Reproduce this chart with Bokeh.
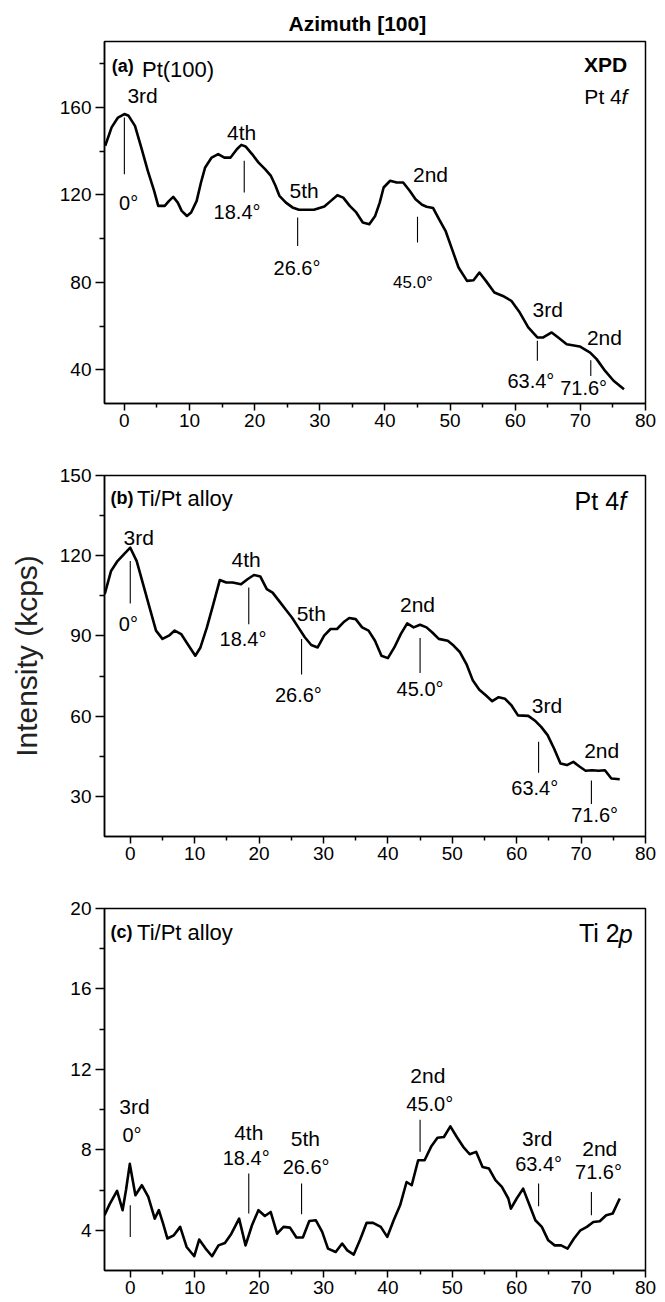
from bokeh.plotting import figure
from bokeh.layouts import column
from bokeh.models import FixedTicker, Range1d
from bokeh.core.properties import value
from bokeh.embed import file_html
from bokeh.resources import INLINE

FONT = "Liberation Sans, Arial, sans-serif"

# ---------------- data ----------------
a_angle = [-2.94, -1.96, -0.98, 0.0, 0.65, 1.63, 2.6, 3.6, 4.57, 5.2, 6.2, 6.86, 7.5, 8.2, 8.8, 9.6,
           10.25, 11.1, 11.76, 12.4, 13.4, 14.4, 15.35, 16.3, 17.3, 17.96, 18.6, 19.6, 20.6, 21.6,
           22.5, 23.2, 23.8, 24.8, 25.8, 26.8, 29.1, 30.7, 31.7, 32.7, 33.6, 34.6, 35.6, 36.6, 37.6,
           38.5, 39.2, 39.8, 40.8, 41.8, 42.8, 43.8, 44.7, 45.7, 46.4, 47.4, 48.3, 49.3, 50.3, 51.3,
           52.6, 53.6, 54.5, 55.5, 56.8, 58.1, 59.4, 60.7, 62.0, 63.4, 64.3, 65.6, 66.6, 67.9, 69.9,
           71.5, 72.5, 73.8, 75.1, 76.7]
a_intensity = [142.5, 150.9, 155.4, 157.0, 156.2, 151.6, 141.7, 131.0, 121.9, 115.0, 115.0, 117.3,
               119.1, 116.5, 112.7, 110.4, 112.0, 117.3, 125.7, 132.6, 137.1, 138.7, 137.1, 137.1,
               141.0, 142.9, 142.2, 138.7, 134.8, 131.8, 128.7, 124.2, 119.6, 116.5, 114.3, 113.2,
               113.2, 114.7, 117.3, 119.9, 118.8, 115.0, 112.0, 107.4, 106.6, 110.4, 116.5, 123.4,
               126.5, 125.7, 125.7, 121.9, 118.0, 115.5, 114.6, 114.0, 108.9, 103.6, 95.2, 86.8,
               80.7, 81.0, 84.5, 80.7, 75.4, 73.8, 71.6, 66.2, 59.4, 54.8, 54.8, 57.1, 54.8, 51.7,
               50.7, 47.9, 44.9, 39.5, 35.0, 31.1]

b_angle = [-3.97, -2.98, -1.98, -1.0, 0.0, 1.0, 2.0, 3.0, 4.0, 5.0, 6.0, 6.9, 7.9, 8.9, 10.1, 10.9,
           11.9, 12.9, 13.9, 14.9, 15.9, 17.2, 18.2, 19.2, 20.2, 21.2, 22.1, 23.1, 24.1, 25.1, 26.1,
           27.1, 28.1, 29.1, 30.1, 31.1, 32.1, 33.1, 34.0, 35.0, 36.0, 37.0, 38.0, 39.0, 40.0, 41.0,
           42.0, 43.0, 44.0, 45.0, 46.0, 46.9, 47.9, 49.3, 50.2, 51.2, 52.2, 53.2, 54.2, 55.2, 56.2,
           57.2, 58.2, 59.2, 60.2, 61.8, 62.8, 63.8, 64.8, 65.8, 66.8, 67.8, 68.8, 69.8, 70.7, 71.7,
           72.7, 73.7, 74.7, 76.0]
b_intensity = [105.6, 114.3, 118.0, 120.5, 123.0, 118.0, 109.3, 100.6, 92.0, 88.9, 90.1, 92.0, 90.7,
               87.0, 82.6, 85.7, 93.2, 101.9, 110.9, 110.0, 110.0, 109.3, 111.2, 112.8, 112.2, 107.5,
               106.2, 103.1, 100.0, 96.9, 93.2, 89.5, 86.6, 85.7, 90.1, 92.6, 92.6, 95.1, 96.7, 96.3,
               93.2, 92.0, 88.2, 82.6, 81.7, 85.7, 90.7, 94.7, 93.2, 94.2, 93.2, 91.3, 88.9, 88.2,
               86.4, 83.9, 79.5, 73.3, 69.9, 67.8, 65.6, 67.1, 66.5, 64.0, 60.3, 60.1, 58.4, 56.0,
               52.9, 47.9, 42.3, 41.7, 42.9, 41.1, 39.6, 39.8, 39.6, 39.8, 36.7, 36.4]

c_angle = [-4.0, -3.2, -2.05, -1.19, -0.66, -0.07, 0.8, 1.8, 2.8, 3.8, 4.44, 5.1, 5.77, 6.76, 7.75,
           8.75, 9.94, 10.7, 11.7, 12.7, 13.7, 14.7, 15.7, 16.9, 17.9, 18.9, 19.9, 20.9, 21.8, 22.8,
           23.8, 24.8, 25.8, 26.8, 27.8, 28.8, 29.8, 30.7, 31.9, 32.9, 33.7, 34.7, 35.7, 36.7, 37.7,
           38.9, 39.9, 40.9, 41.9, 42.9, 43.7, 44.7, 45.7, 46.7, 47.7, 48.7, 49.7, 50.7, 51.7, 52.7,
           53.7, 54.7, 55.7, 56.7, 57.7, 58.7, 59.1, 60.0, 61.0, 62.0, 62.9, 63.9, 64.9, 65.9, 66.9,
           67.9, 68.9, 69.9, 70.9, 71.9, 72.9, 73.9, 74.9, 76.0]
c_intensity = [4.75, 5.3, 5.96, 5.0, 6.0, 7.3, 5.74, 6.24, 5.66, 4.58, 5.0, 4.33, 3.59, 3.75, 4.17,
               3.17, 2.71, 3.54, 3.09, 2.71, 3.25, 3.37, 3.83, 4.58, 3.25, 4.25, 5.0, 4.71, 4.91, 3.83,
               4.17, 4.13, 3.64, 3.64, 4.46, 4.5, 3.92, 3.09, 2.92, 3.34, 3.0, 2.79, 3.54, 4.37, 4.37,
               4.17, 3.67, 4.5, 5.24, 6.4, 6.24, 7.48, 7.48, 8.15, 8.6, 8.64, 9.17, 8.64, 8.15, 7.78,
               7.9, 7.15, 7.07, 6.49, 6.16, 5.58, 5.08, 5.58, 6.07, 5.24, 4.5, 4.17, 3.5, 3.25, 3.25,
               3.09, 3.59, 4.0, 4.17, 4.41, 4.45, 4.75, 4.83, 5.58]

peak_angles = [0.0, 18.4, 26.6, 45.0, 63.4, 71.6]
peak_orders = ["3rd", "4th", "5th", "2nd", "3rd", "2nd"]
angle_labels = ["0°" if a == 0 else f"{a:.1f}°" for a in peak_angles]

x_ticks = [0, 10, 20, 30, 40, 50, 60, 70, 80]


def make_panel(xs, ys, x_range, y_range, y_ticks, y_minor, height, top, bottom,
               marker_y0, marker_y1, order_xy, label_xy, label_sizes):
    p = figure(width=665, height=height, output_backend="svg", toolbar_location=None,
               x_range=Range1d(*x_range), y_range=Range1d(*y_range),
               min_border_left=104, min_border_right=20, min_border_top=top,
               min_border_bottom=bottom)
    p.background_fill_color = "white"
    p.border_fill_color = "white"
    p.outline_line_color = "black"
    p.outline_line_width = 1.5
    p.xgrid.visible = False
    p.ygrid.visible = False
    for ax in (p.xaxis[0], p.yaxis[0]):
        ax.axis_line_width = 1.5
        ax.major_tick_line_width = 1.5
        ax.minor_tick_line_width = 1.5
        ax.major_tick_in = 0
        ax.minor_tick_in = 0
        ax.major_label_text_font = FONT
        ax.major_label_text_font_size = "19px"
        ax.major_label_text_color = "black"
    p.xaxis.major_tick_out = 7
    p.xaxis.minor_tick_out = 4
    p.xaxis.major_label_standoff = 3
    p.yaxis.major_tick_out = 9
    p.yaxis.minor_tick_out = 5
    p.yaxis.major_label_standoff = 4
    p.xaxis.ticker = FixedTicker(ticks=x_ticks, minor_ticks=[t + 5 for t in x_ticks])
    p.yaxis.ticker = FixedTicker(ticks=y_ticks, minor_ticks=y_minor)

    p.line(xs, ys, line_color="black", line_width=2.6, line_join="round")

    # peak markers
    p.segment(x0=peak_angles, y0=marker_y0, x1=peak_angles, y1=marker_y1,
              line_color="black", line_width=1.1)
    ox, oy = order_xy
    p.text(x=ox, y=oy, text=peak_orders, text_font=value(FONT), text_font_size="21px",
           text_align="center", text_baseline="middle", text_color="black")
    lx, ly = label_xy
    p.text(x=lx, y=ly, text=angle_labels, text_font=value(FONT), text_font_size=label_sizes,
           text_align="center", text_baseline="middle", text_color="black")
    return p


def add_text(p, x, y, s, size, style="normal", align="left"):
    p.text(x=[x], y=[y], text=[s], text_font=value(FONT), text_font_size=size,
           text_font_style=style, text_baseline="middle", text_align=align, text_color="black")


# ---- panel (a)
pa = make_panel(a_angle, a_intensity, (-3.05, 80), (24.6, 190.2), [40, 80, 120, 160],
                [60, 100, 140, 180], 445, 41, 42,
                [155.4, 135.6, 109.7, 110.0, 53.3, 44.4],
                [129.5, 121.1, 96.7, 98.2, 44.1, 37.2],
                ([2.8, 18.0, 27.6, 47.0, 65.0, 73.7], [165.3, 148.4, 121.9, 129.5, 67.7, 54.8]),
                ([0.65, 17.3, 26.5, 44.3, 62.4, 70.5], [116.5, 112.4, 86.8, 80.0, 35.0, 31.9]),
                ["20px", "20px", "20px", "17px", "20px", "20px"])
pa.title.text = "Azimuth [100]"
pa.title.text_font = FONT
pa.title.text_font_size = "21px"
pa.title.text_font_style = "bold"
pa.title.text_color = "black"
pa.title.align = "left"
pa.title.offset = 184
pa.title.standoff = 13
add_text(pa, -1.95, 178.9, "(a)", "18px", "bold")
add_text(pa, 2.7, 177.2, "Pt(100)", "22px")
add_text(pa, 77.2, 179.8, "XPD", "21px", "bold", "right")
add_text(pa, 76.35, 165.0, "Pt 4", "21px", "normal", "right")
add_text(pa, 77.2, 165.0, "f", "21px", "italic", "right")

# ---- panel (b)
pb = make_panel(b_angle, b_intensity, (-4, 80), (15, 150), [30, 60, 90, 120, 150],
                [45, 75, 105, 135], 425, 30, 34,
                [118.0, 108.1, 88.9, 89.2, 50.4, 35.9],
                [102.1, 94.4, 75.6, 76.1, 38.8, 27.2],
                ([1.3, 18.0, 28.1, 44.6, 64.7, 73.2], [127.0, 118.6, 98.4, 101.9, 64.0, 47.3]),
                ([-0.3, 17.5, 26.1, 45.0, 62.8, 72.1], [94.4, 88.9, 67.8, 70.2, 33.0, 23.1]),
                ["20px"] * 6)
pb.yaxis.axis_label = "Intensity (kcps)"
pb.yaxis.axis_label_text_font = FONT
pb.yaxis.axis_label_text_font_size = "30px"
pb.yaxis.axis_label_text_font_style = "normal"
pb.yaxis.axis_label_text_color = "#222222"
pb.yaxis.axis_label_standoff = 14
add_text(pb, -3.05, 141.6, "(b)", "18px", "bold")
add_text(pb, 1.05, 141.4, "Ti/Pt alloy", "22px")
add_text(pb, 75.9, 140.4, "Pt 4", "25px", "normal", "right")
add_text(pb, 77.0, 140.4, "f", "25px", "italic", "right")

# ---- panel (c)
pc = make_panel(c_angle, c_intensity, (-4, 80), (2, 20), [4, 8, 12, 16, 20],
                [6, 10, 14, 18], 432, 38, 32,
                [5.24, 6.82, 6.32, 9.5, 6.32, 5.9],
                [3.67, 4.83, 4.8, 7.9, 5.19, 4.75],
                ([0.66, 18.4, 27.2, 46.2, 63.2, 72.9], [10.14, 8.84, 8.56, 11.7, 8.56, 8.06]),
                ([0.27, 18.0, 27.3, 46.5, 63.4, 72.7], [8.73, 7.57, 7.15, 10.3, 7.32, 6.9]),
                ["20px"] * 6)
add_text(pc, -3.05, 18.84, "(c)", "18px", "bold")
add_text(pc, 1.05, 18.82, "Ti/Pt alloy", "22px")
add_text(pc, 76.0, 18.8, "Ti 2", "25px", "normal", "right")
add_text(pc, 78.0, 18.75, "p", "25px", "italic", "right")

layout = column(pa, pb, pc, spacing=0)
open("out.html", "w").write(file_html(layout, INLINE))
